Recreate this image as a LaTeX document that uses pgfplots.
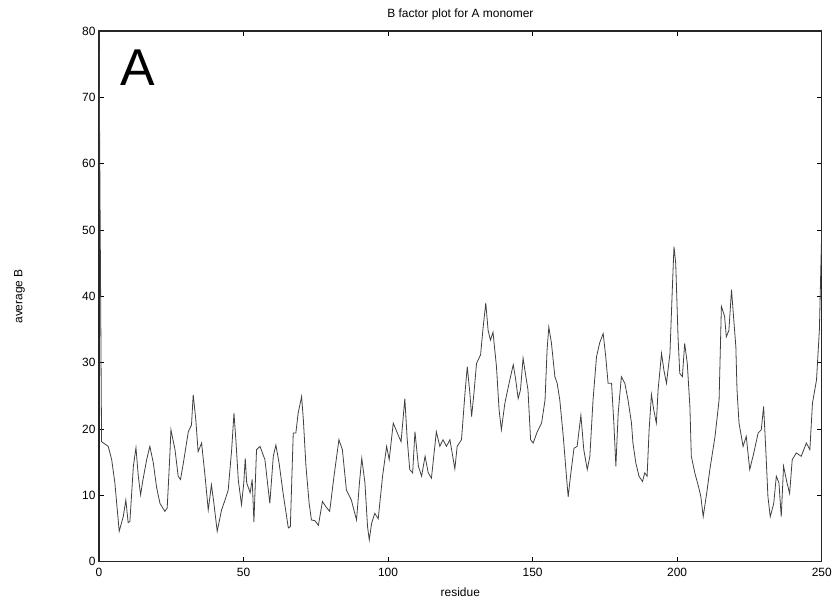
\documentclass[border=0pt]{standalone}
\usepackage{fontspec}
\setmainfont{Liberation Sans}
\usepackage{pgfplots}
\pgfplotsset{compat=1.18}
\begin{document}
\begin{tikzpicture}
\begin{axis}[
  scale only axis,
  width=723bp, height=531bp,
  xmin=0, xmax=250, ymin=0, ymax=80,
  xtick={0,50,100,150,200,250},
  ytick={0,10,20,30,40,50,60,70,80},
  tick align=inside,
  major tick length=5bp,
  axis line style={line width=1.3bp, black!85},
  tick style={line width=1bp, black},
  /pgf/number format/assume math mode=true,
  tick label style={font=\fontsize{12}{14}\selectfont},
  xticklabel style={yshift=-3bp},
  title={B factor plot for A monomer},
  title style={font=\fontsize{12}{14}\selectfont, at={(0.5,1)}, above, yshift=2bp},
  xlabel={residue},
  ylabel={average B},
  label style={font=\fontsize{12}{14}\selectfont},
  xlabel style={at={(axis description cs:0.5,-0.058)}, anchor=center},
  ylabel style={at={(axis description cs:-0.11,0.5)}, anchor=center},
  clip=true,
]
\addplot[black!75, line width=0.8bp] coordinates {
(0,80) (0.9,18.1) (3.2,17.4) (4.4,15.4) (5.5,11.9) (7.0,4.6) (8.4,6.8) (9.3,9.3) (10.1,5.9) (10.7,6.1)
(11.9,14.4) (12.8,17.2) (13.6,12.9) (14.4,10.1) (15.2,12.3) (16.5,15.4) (17.6,17.4) (18.8,14.9) (19.9,11.3)
(21.1,8.8) (22.8,7.6) (23.6,8.1) (24.5,15.9) (24.9,19.9) (26.3,16.9) (27.4,12.9) (28.2,12.4) (29.2,14.9)
(30.9,19.6) (32.0,20.6) (32.6,25.2) (33.5,21.4) (34.3,16.6) (35.5,17.9) (36.7,12.9) (37.8,7.8) (38.9,11.6)
(39.7,9.0) (40.9,4.6) (42.4,7.8) (43.6,9.3) (44.7,10.8) (45.9,16.9) (46.7,22.4) (47.4,18.1) (48.2,12.3)
(49.3,8.6) (50.1,11.9) (50.6,15.6) (51.1,11.9) (52.3,10.4) (53.0,12.4) (53.6,6.0) (54.5,16.9) (55.7,17.4)
(57.4,15.4) (59.1,8.8) (60.3,15.9) (61.2,17.6) (62.3,14.9) (63.7,10.3) (65.5,5.1) (66.2,5.3) (67.2,19.4)
(68.1,19.4) (68.9,22.4) (70.1,24.9) (70.7,21.4) (71.6,14.4) (72.7,8.8) (73.5,6.3) (74.7,6.2) (75.9,5.5)
(77.3,9.1) (78.5,8.3) (79.8,7.6) (81.3,12.9) (83.0,18.4) (84.2,16.9) (85.6,10.8) (87.3,9.3) (89.1,6.3)
(90.1,11.9) (90.9,15.6) (92.0,11.9) (92.9,5.3) (93.5,3.3) (94.3,5.8) (95.4,7.3) (96.6,6.5) (98.1,12.9)
(99.5,17.4) (100.4,15.4) (101.8,20.9) (103.5,19.1) (104.5,18.1) (105.8,24.6) (106.6,18.6) (107.5,13.9)
(108.5,13.4) (109.3,19.6) (110.5,14.4) (111.6,12.9) (112.8,15.9) (113.9,13.4) (115.0,12.6) (116.7,19.6)
(117.9,17.4) (119.0,18.4) (120.2,17.4) (121.4,18.4) (123.1,14.0) (123.9,17.4) (125.4,18.4) (126.6,25.4)
(127.4,29.4) (128.3,25.4) (128.9,21.9) (129.7,25.4) (130.6,29.9) (132.0,31.2) (132.9,35.4) (133.8,39.0)
(134.6,34.9) (135.4,33.4) (136.3,34.6) (137.5,29.4) (138.4,22.9) (139.2,19.9) (140.4,23.9) (142.1,27.4)
(143.3,29.7) (144.1,27.6) (145.0,24.6) (145.8,25.9) (146.7,30.7) (147.6,28.1) (148.4,25.9) (149.3,18.4)
(150.2,17.9) (151.6,19.6) (153.1,20.9) (154.3,24.4) (155.0,31.9) (155.6,35.4) (156.5,33.0) (157.7,27.9)
(158.5,26.9) (159.4,24.4) (160.6,18.9) (161.7,12.9) (162.3,9.8) (163.1,12.9) (164.3,17.1) (165.4,17.4)
(166.7,22.1) (167.7,16.9) (168.9,13.9) (169.8,15.9) (170.9,24.4) (172.1,30.9) (173.2,33.0) (174.4,34.4)
(175.3,30.9) (176.1,26.9) (177.3,26.9) (178.1,20.9) (178.8,14.4) (179.6,22.4) (180.7,27.9) (181.9,26.9)
(183.0,24.4) (184.2,20.9) (184.7,17.9) (185.7,14.9) (186.8,12.9) (188.0,12.1) (188.8,13.4) (189.6,12.9)
(190.3,19.9) (191.1,25.2) (191.9,22.9) (192.8,20.9) (193.4,25.9) (194.6,31.4) (195.4,28.9) (196.3,26.9)
(197.5,31.4) (198.4,42.0) (198.9,47.5) (199.5,45.0) (200.3,33.9) (200.9,28.4) (201.8,27.9) (202.6,32.9)
(203.5,29.9) (204.4,23.4) (204.9,15.9) (206.1,13.4) (207.4,11.3) (208.2,9.8) (209.0,6.8) (210.2,10.3)
(211.3,13.9) (213.1,18.9) (214.5,24.4) (215.3,38.5) (216.4,37.0) (217.0,33.9) (217.9,34.9) (218.8,41.0)
(219.4,37.5) (220.3,32.4) (220.7,25.9) (221.4,20.9) (222.8,17.4) (223.9,18.9) (225.1,13.9) (226.5,16.4)
(228.0,19.4) (229.1,19.9) (229.9,23.4) (230.6,17.4) (231.4,9.8) (232.2,6.8) (233.4,8.8) (234.3,12.9)
(235.2,11.9) (236.0,6.8) (236.8,14.4) (238.0,11.9) (238.9,10.3) (239.8,15.4) (241.2,16.4) (242.9,15.9)
(244.7,17.9) (245.9,16.9) (246.8,23.9) (248.2,27.4) (249.2,35.0) (250,50.0)
};
\node[font=\fontsize{52}{56}\selectfont, inner sep=0pt] at (axis cs:13.5,74.4) {A};
\end{axis}
\path ([xshift=-99bp,yshift=-42bp]current axis.south west) rectangle ([xshift=13bp,yshift=31bp]current axis.north east);
\end{tikzpicture}
\end{document}
